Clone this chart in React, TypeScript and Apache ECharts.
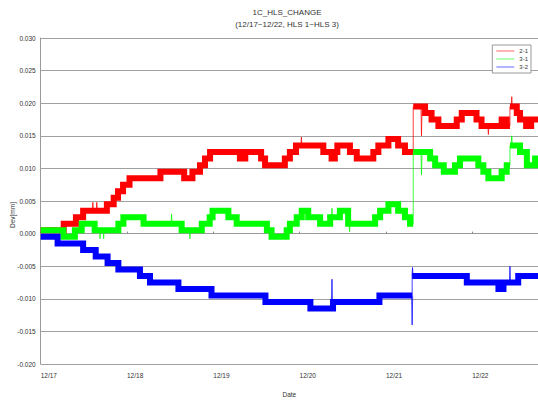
import React, { useEffect, useRef } from "react";
import * as echarts from "echarts";

// Day labels on the x axis (x values are hours counted from 12/17 00:00)
const dayLabels = ["12/17", "12/18", "12/19", "12/20", "12/21", "12/22"];
const xMaxHours = 138.3;

// Series "2-1" (red): change points (hour, deviation in mm)
const hours21 = [0, 6.4, 9.8, 11.8, 18.4, 20.3, 21.5, 22.9, 24.7, 33.3, 39.9, 42.2, 44.3, 45.7, 47.1, 55.4, 56.9, 61.3, 62.4, 67.9, 69.3, 71.0, 78.6, 80.9, 81.8, 82.5, 86.0, 87.9, 92.5, 93.9, 96.7, 99.4, 101.3, 103.6, 106.9, 108.7, 110.6, 115.7, 117.1, 121.2, 122.6, 128.2, 129.6, 130.5, 132.4, 133.3, 135.0, 136.4, 138.3];
const dev21 = [0.0005, 0.0015, 0.0025, 0.0035, 0.0045, 0.0055, 0.0065, 0.0075, 0.0085, 0.0095, 0.0085, 0.0095, 0.0105, 0.0115, 0.0125, 0.0115, 0.0125, 0.0115, 0.0105, 0.0115, 0.0125, 0.0135, 0.0125, 0.0115, 0.0125, 0.0135, 0.0125, 0.0115, 0.0125, 0.0135, 0.0145, 0.0135, 0.0125, 0.0195, 0.0185, 0.0175, 0.0165, 0.0175, 0.0185, 0.0175, 0.0165, 0.0175, 0.0165, 0.0195, 0.0185, 0.0175, 0.0165, 0.0175, 0.0175];
// thin spikes of "2-1": hour, from, to
const spikeHours21 = [14.5, 15.6, 72.5, 105.9, 124.5, 131.0];
const spikeFrom21 = [0.0035, 0.0035, 0.0135, 0.0195, 0.0165, 0.0195];
const spikeTo21 = [0.0048, 0.0048, 0.0148, 0.0150, 0.0152, 0.0210];

// Series "3-1" (green)
const hours31 = [0, 6.3, 9.5, 11.4, 15.0, 21.6, 23.0, 28.6, 39.2, 44.8, 47.0, 47.8, 52.2, 54.5, 62.9, 64.2, 68.4, 69.3, 71.2, 72.6, 74.4, 77.7, 80.5, 83.2, 85.5, 93.0, 94.4, 96.7, 99.4, 101.3, 102.7, 103.6, 108.3, 109.7, 112.1, 115.2, 116.6, 121.7, 123.1, 124.5, 128.2, 129.6, 130.5, 133.3, 135.2, 137.5, 138.3];
const dev31 = [0.0005, -0.0005, 0.0005, 0.0015, 0.0005, 0.0015, 0.0025, 0.0015, 0.0005, 0.0015, 0.0025, 0.0035, 0.0025, 0.0015, 0.0005, -0.0005, 0.0005, 0.0015, 0.0025, 0.0035, 0.0025, 0.0015, 0.0025, 0.0035, 0.0015, 0.0025, 0.0035, 0.0045, 0.0035, 0.0025, 0.0015, 0.0125, 0.0115, 0.0105, 0.0095, 0.0105, 0.0115, 0.0105, 0.0095, 0.0085, 0.0095, 0.0105, 0.0135, 0.0125, 0.0105, 0.0115, 0.0115];
const spikeHours31 = [16.5, 17.5, 36.4, 41.5, 81.0, 85.9, 105.9, 131.0];
const spikeFrom31 = [0.0005, 0.0005, 0.0015, 0.0005, 0.0025, 0.0015, 0.0125, 0.0135];
const spikeTo31 = [-0.0008, -0.0008, 0.0030, -0.0008, 0.0039, 0.0003, 0.0090, 0.0150];

// Series "3-2" (blue)
const hours32 = [0, 4.7, 11.8, 15.3, 18.6, 21.6, 27.6, 30.4, 38.3, 47.5, 62.5, 75.0, 81.3, 94.2, 103.3, 118.5, 127.3, 128.7, 132.8, 138.3];
const dev32 = [-0.0005, -0.0015, -0.0025, -0.0035, -0.0045, -0.0055, -0.0065, -0.0075, -0.0085, -0.0095, -0.0105, -0.0115, -0.0105, -0.0095, -0.0065, -0.0075, -0.0085, -0.0075, -0.0065, -0.0065];
const spikeHours32 = [81.0, 103.3, 103.4, 130.5];
const spikeFrom32 = [-0.0115, -0.0095, -0.0065, -0.0075];
const spikeTo32 = [-0.0070, -0.0140, -0.0052, -0.0050];

const seriesNames = ["2-1", "3-1", "3-2"];
const seriesColors = ["#ff0000", "#00ff00", "#0000ff"];

const FONT = "'Liberation Sans Narrow', 'Liberation Sans', Arial, sans-serif";

// Split the step line where it jumps by more than one band; jumps become thin lines.
function buildMain(h: number[], v: number[]) {
  const main: any[] = [];
  const thin: any[] = [];
  for (let i = 0; i < h.length; i++) {
    if (i > 0 && Math.abs(v[i] - v[i - 1]) > 0.0025) {
      main.push([h[i], v[i - 1]]);
      main.push("-");
      thin.push([h[i], v[i - 1]], [h[i], v[i]], "-");
    }
    main.push([h[i], v[i]]);
  }
  return { main, thin };
}

function buildSpikes(h: number[], from: number[], to: number[]) {
  const out: any[] = [];
  h.forEach((x, i) => {
    out.push([x - 0.15, from[i]], [x, to[i]], [x + 0.15, from[i]], "-");
  });
  return out;
}

export default function App() {
  const ref = useRef<HTMLDivElement>(null);

  useEffect(() => {
    document.body.style.margin = "0";
    if (!ref.current) return;
    const chart = echarts.init(ref.current, null, { renderer: "svg" });
    const built = [buildMain(hours21, dev21), buildMain(hours31, dev31), buildMain(hours32, dev32)];
    const spikes = [
      buildSpikes(spikeHours21, spikeFrom21, spikeTo21),
      buildSpikes(spikeHours31, spikeFrom31, spikeTo31),
      buildSpikes(spikeHours32, spikeFrom32, spikeTo32),
    ];

    const series: any[] = [];
    seriesNames.forEach((name, i) => {
      series.push({
        name,
        type: "line",
        step: "end",
        symbol: "none",
        data: built[i].main,
        color: seriesColors[i],
        lineStyle: { width: 6, color: seriesColors[i], join: "miter", cap: "butt" },
        itemStyle: { color: seriesColors[i] },
        silent: true,
        z: 2 + i,
      });
      series.push({
        name,
        type: "line",
        symbol: "none",
        data: built[i].thin.concat(spikes[i]),
        color: seriesColors[i],
        lineStyle: { width: 1, color: seriesColors[i], opacity: 0.75 },
        itemStyle: { color: seriesColors[i] },
        silent: true,
        z: 2 + i,
      });
    });

    chart.setOption({
      animation: false,
      backgroundColor: "#ffffff",
      textStyle: { fontFamily: FONT },
      title: {
        text: "1C_HLS_CHANGE",
        subtext: "(12/17~12/22, HLS 1~HLS 3)",
        left: 287,
        top: 8,
        padding: 0,
        itemGap: 4,
        textAlign: "center",
        textStyle: { fontSize: 8, fontWeight: "normal", color: "#333", fontFamily: FONT },
        subtextStyle: { fontSize: 8, color: "#333", fontFamily: FONT },
      },
      legend: {
        data: seriesNames,
        orient: "vertical",
        right: 7,
        top: 45,
        padding: [3, 3, 3, 4],
        itemGap: 2,
        itemWidth: 18,
        itemHeight: 1,
        icon: "rect",
        itemStyle: { opacity: 0.6 },
        borderColor: "#999",
        borderWidth: 1,
        backgroundColor: "#fff",
        textStyle: { fontSize: 6, color: "#333", fontFamily: FONT },
      },
      grid: { left: 40.7, right: 0, top: 38, bottom: 34 },
      xAxis: {
        type: "value",
        min: 0,
        max: xMaxHours,
        interval: 24,
        name: "Date",
        nameLocation: "middle",
        nameGap: 27,
        nameTextStyle: { fontSize: 6.5, color: "#333", fontFamily: FONT },
        axisLine: { show: true, lineStyle: { color: "#999", width: 1 } },
        axisTick: { show: true, inside: true, length: 2, lineStyle: { color: "#888" } },
        axisLabel: {
          formatter: (v: number) => {
            const d = Math.round(v / 24);
            return Math.abs(v - d * 24) < 1e-6 && dayLabels[d] ? dayLabels[d] : "";
          },
          showMaxLabel: false,
          align: "left",
          margin: 8,
          fontSize: 6.5,
          color: "#333",
          fontFamily: FONT,
        },
        splitLine: { show: false },
      },
      yAxis: {
        type: "value",
        min: -0.02,
        max: 0.03,
        interval: 0.005,
        axisLine: { show: true, lineStyle: { color: "#999", width: 1 } },
        axisTick: { show: false },
        axisLabel: {
          formatter: (v: number) => (Math.abs(v) < 1e-9 ? "0.000" : v.toFixed(3)),
          fontSize: 6.5,
          margin: 5,
          color: "#333",
          fontFamily: FONT,
        },
        splitLine: { show: true, lineStyle: { color: "#a0a0a0", width: 1 } },
      },
      graphic: [
        {
          type: "text",
          x: 12,
          y: 215,
          rotation: Math.PI / 2,
          style: {
            text: "Dev[mm]",
            fontSize: 6.5,
            fill: "#333",
            fontFamily: FONT,
            align: "center",
            verticalAlign: "middle",
          },
        },
      ],
      series,
    });

    return () => chart.dispose();
  }, []);

  return <div ref={ref} style={{ width: 538, height: 403 }} />;
}
